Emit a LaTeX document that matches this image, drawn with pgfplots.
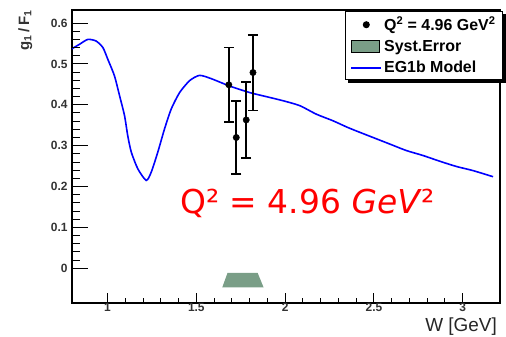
\documentclass[border=0pt]{standalone}
\usepackage{fontspec}
\setmainfont{Liberation Sans}
\newfontfamily\redfont{DejaVu Sans}
\usepackage{pgfplots}
\pgfplotsset{compat=1.18}
\usetikzlibrary{backgrounds}
\definecolor{systcol}{RGB}{122,158,135}

\begin{document}
\begin{tikzpicture}
\begin{axis}[
 name=ax,
 scale only axis, width=428bp, height=293bp,
 xmin=0.8, xmax=3.21, ymin=-0.085, ymax=0.632,
 axis line style={line width=1.3bp},
 tick pos=left, tick align=inside,
 xtick={1,1.5,2,2.5,3}, minor x tick num=4,
 ytick=\empty,
 major tick length=10bp, minor tick length=5bp,
 tick style={black, line width=1bp},
 xticklabel style={font=\fontsize{12}{12}\selectfont\bfseries, text=black!80, yshift=3bp},
 /pgf/number format/assume math mode=true,
 legend style={name=leg, at={(1.007,0.995)}, anchor=north east, draw=black, line width=1bp, fill=white,
   font=\fontsize{16}{16}\selectfont\bfseries, inner xsep=5bp, inner ysep=3bp, row sep=4bp,
   cells={anchor=west}},
]
\addlegendimage{black, legend image code/.code={\fill[black] (15bp,0bp) circle (3bp);}}
\addlegendentry{Q\textsuperscript{2} = 4.96 GeV\textsuperscript{2}}
\addlegendimage{black, legend image code/.code={\draw[fill=systcol, draw=black, line width=1bp] (0bp,-6bp) rectangle (28bp,6bp);}}
\addlegendentry{Syst.Error}
\addlegendimage{blue, line width=1.8bp, legend image code/.code={\draw[draw=blue, line width=1.8bp] (0bp,0bp) -- (30bp,0bp);}}
\addlegendentry{EG1b Model}

\addplot[forget plot, fill=systcol, draw=none] coordinates {(1.646,-0.047) (1.676,-0.011) (1.845,-0.011) (1.879,-0.047)} -- cycle;

\addplot[forget plot, blue, line width=1.6bp, smooth, tension=0.4] coordinates {
(0.795,0.536) (0.842,0.548) (0.889,0.560) (0.936,0.556) (0.974,0.540)
(1.002,0.511) (1.039,0.471) (1.068,0.422) (1.096,0.373) (1.114,0.324)
(1.134,0.284) (1.171,0.243) (1.218,0.215) (1.246,0.235) (1.283,0.284)
(1.321,0.341) (1.359,0.390) (1.406,0.430) (1.462,0.459) (1.518,0.472)
(1.584,0.464) (1.687,0.446) (1.800,0.430) (1.894,0.420) (1.988,0.410)
(2.082,0.398) (2.176,0.377) (2.269,0.361) (2.345,0.346) (2.401,0.336)
(2.495,0.320) (2.589,0.304) (2.683,0.288) (2.776,0.276) (2.870,0.262)
(2.965,0.249) (3.058,0.239) (3.171,0.224)
};

\addplot[forget plot, only marks, black, mark=*, mark size=3.2bp,
  error bars/.cd, y dir=both, y explicit,
  error bar style={line width=1.6bp, black},
  error mark options={black, line width=1.6bp, mark size=5bp, rotate=90}]
 coordinates {
 (1.683,0.449) +- (0,0.0915)
 (1.725,0.320) +- (0,0.0895)
 (1.781,0.363) +- (0,0.0925)
 (1.819,0.479) +- (0,0.0925)
 };

\node[font=\redfont\fontsize{33}{33}\selectfont, text=red] at (axis cs:2.127,0.159) {Q² = 4.96 \textit{GeV}²};
\end{axis}

\begin{scope}[on background layer]
\fill[black] ([xshift=3bp, yshift=-3bp]leg.south west) rectangle ([xshift=3bp, yshift=-3bp]leg.north east);
\end{scope}

\begin{axis}[
 scale only axis, width=428bp, height=293bp,
 xmin=0.8, xmax=3.21, ymin=-0.085, ymax=0.632,
 axis line style={draw=none},
 tick pos=left, tick align=inside,
 xtick=\empty,
 ytick={0,0.1,0.2,0.3,0.4,0.5,0.6}, minor y tick num=4,
 major tick length=16bp, minor tick length=8bp,
 tick style={black, line width=1bp},
 yticklabel style={font=\fontsize{12}{12}\selectfont\bfseries, text=black!80, xshift=-1bp},
 /pgf/number format/assume math mode=true,
]
\end{axis}

\node[rotate=90, anchor=north east, inner sep=0pt, font=\fontsize{15}{15}\selectfont\bfseries, text=black!80]
  at ([xshift=-54bp, yshift=0bp]ax.north west) {g\textsubscript{1}\,/\,F\textsubscript{1}};
\node[anchor=north east, inner sep=0pt, font=\fontsize{19}{19}\selectfont, text=black!85]
  at ([xshift=-3bp, yshift=-15bp]ax.south east) {W [GeV]};

\pgfresetboundingbox
\path ([xshift=-72bp, yshift=-34bp]ax.south west) rectangle ([xshift=6bp, yshift=10bp]ax.north east);
\end{tikzpicture}
\end{document}
